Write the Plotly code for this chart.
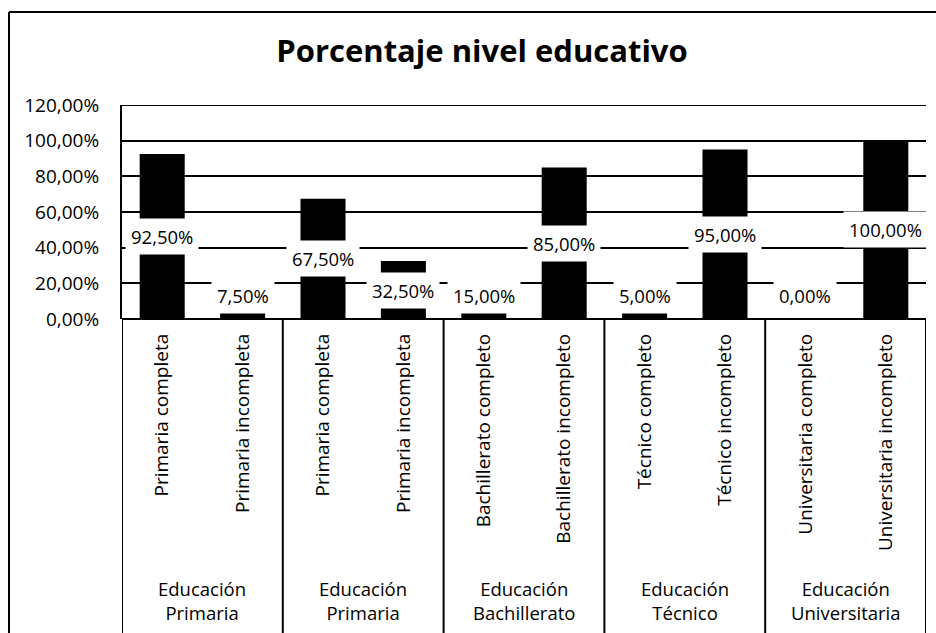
import plotly.graph_objects as go

# ---- data ----
groups = ["Educación<br>Primaria", "Educación<br>Primaria", "Educación<br>Bachillerato",
          "Educación<br>Técnico", "Educación<br>Universitaria"]
subcats = ["Primaria completa", "Primaria incompleta",
           "Primaria completa", "Primaria incompleta",
           "Bachillerato completo", "Bachillerato incompleto",
           "Técnico completo", "Técnico incompleto",
           "Universitaria completo", "Universitaria incompleto"]
values = [92.5, 7.5, 67.5, 32.5, 15.0, 85.0, 5.0, 95.0, 0.0, 100.0]
value_labels = ["92,50%", "7,50%", "67,50%", "32,50%", "15,00%",
                "85,00%", "5,00%", "95,00%", "0,00%", "100,00%"]
y_tickvals = [0, 20, 40, 60, 80, 100, 120]
y_ticktext = ["0,00%", "20,00%", "40,00%", "60,00%", "80,00%", "100,00%", "120,00%"]
title_text = "Porcentaje nivel educativo"

# ---- layout geometry (pixels) ----
W, H = 936, 633
L, R, T, B = 122, 10, 105, 314
PH = H - T - B
PW = W - L - R
FONT = "'Open Sans', sans-serif"
FS = 19


def py(pix):  # pixel y -> paper y
    return (H - B - pix) / PH


def px(pix):  # pixel x -> paper x
    return (pix - L) / PW


xs = list(range(len(values)))

fig = go.Figure()
fig.add_trace(go.Bar(
    x=xs, y=values, width=0.56,
    marker=dict(color="black", line=dict(width=0)),
    hoverinfo="skip",
))

annotations = []
# data labels (center of bar, kept above the axis)
for i, (v, lab) in enumerate(zip(values, value_labels)):
    annotations.append(dict(
        x=i, y=max(v / 2, 13.3), xref="x", yref="y", text=lab,
        showarrow=False, bgcolor="white", borderpad=5,
        font=dict(family=FONT, size=FS - 0.5, color="black"),
        xanchor="center", yanchor="middle",
    ))

# group labels
n_per = len(values) // len(groups)
for g, name in enumerate(groups):
    annotations.append(dict(
        x=g * n_per + (n_per - 1) / 2, y=py(600), xref="x", yref="paper",
        text=name, showarrow=False, align="center",
        font=dict(family=FONT, size=FS - 0.5, color="black"),
        xanchor="center", yanchor="middle",
    ))

shapes = []
# top gridline at the axis maximum
shapes.append(dict(type="line", xref="paper", yref="y",
                   x0=0, x1=1, y0=y_tickvals[-1], y1=y_tickvals[-1],
                   line=dict(color="black", width=2), layer="below"))
# group dividers below the axis
for g in range(len(groups) + 1):
    xd = g * n_per - 0.5
    shapes.append(dict(type="line", xref="x", yref="paper",
                       x0=xd, x1=xd, y0=0, y1=py(640),
                       line=dict(color="black", width=2)))
# outer chart border (left and top)
shapes.append(dict(type="line", xref="paper", yref="paper",
                   x0=px(9), x1=px(9), y0=py(12), y1=py(640),
                   line=dict(color="black", width=2)))
shapes.append(dict(type="line", xref="paper", yref="paper",
                   x0=px(9), x1=px(940), y0=py(12), y1=py(12),
                   line=dict(color="black", width=2)))

fig.update_layout(
    width=W, height=H,
    margin=dict(l=L, r=R, t=T, b=B, autoexpand=False),
    paper_bgcolor="white", plot_bgcolor="white",
    showlegend=False,
    title=dict(text="<b>" + title_text + "</b>", x=482 / W, xanchor="center",
               xref="container", yref="container", y=1 - 51 / H, yanchor="middle",
               font=dict(family=FONT, size=31, color="black")),
    annotations=annotations,
    shapes=shapes,
    bargap=0.44,
)

fig.update_xaxes(
    range=[-0.5, len(values) - 0.5],
    tickmode="array", tickvals=xs, ticktext=subcats,
    tickangle=-90, ticks="", showgrid=False, zeroline=False,
    showline=False, ticklabelstandoff=10,
    tickfont=dict(family=FONT, size=FS, color="black"),
    fixedrange=True,
)
fig.update_yaxes(
    range=[0, 120], tickmode="array", tickvals=y_tickvals, ticktext=y_ticktext,
    showgrid=True, gridcolor="black", gridwidth=2,
    zeroline=True, zerolinecolor="black", zerolinewidth=2,
    showline=True, linecolor="black", linewidth=2,
    ticks="", ticklabelstandoff=17,
    tickfont=dict(family=FONT, size=FS, color="black"),
    fixedrange=True,
)

fig.write_html("out.html", config={"displayModeBar": False},
               post_script="document.body.style.margin='0px';")
